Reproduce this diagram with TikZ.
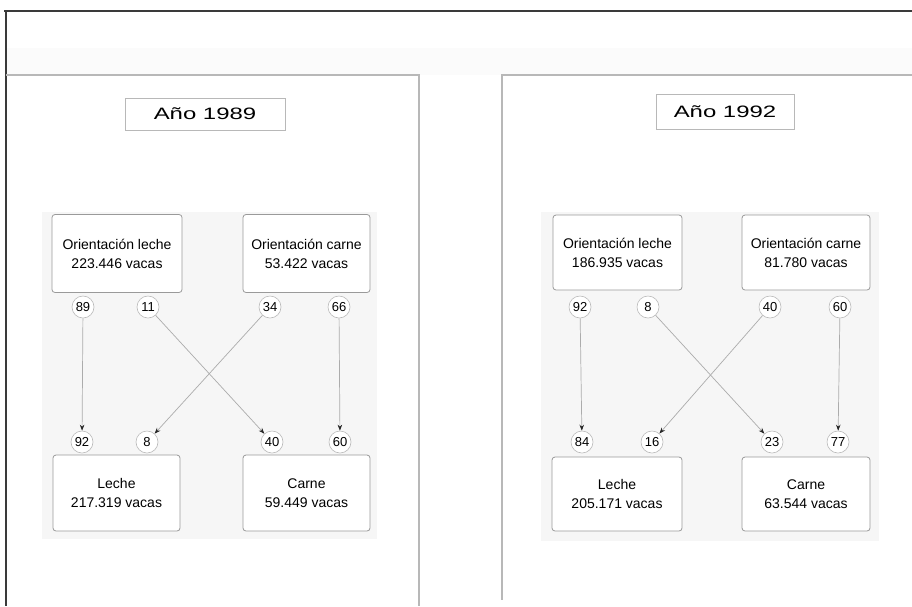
\documentclass[tikz,border=0pt]{standalone}
\usepackage{fontspec}
\setmainfont{Liberation Sans}
\usetikzlibrary{arrows.meta}
\definecolor{shadecol}{HTML}{F6F6F6}
\definecolor{boxline}{HTML}{9A9A9A}
\definecolor{panelline}{HTML}{B8B8B8}
\definecolor{frameline}{HTML}{3A3A3A}
\tikzset{
  box/.style={draw=boxline, line width=0.8pt, rounded corners=3pt, fill=white,
    align=center, font=\fontsize{14}{19}\selectfont, inner sep=0pt},
  titlebox/.style={draw=panelline, line width=0.9pt, fill=white, inner sep=0pt,
    minimum width=160pt, minimum height=32pt},
  pct/.style={circle, draw=gray!55, line width=0.6pt, fill=white, minimum size=22pt,
    inner sep=0pt, font=\fontsize{13}{13}\selectfont},
  arr/.style={draw=gray!65, line width=0.7pt, -{Stealth[length=6pt,width=4.5pt,black!85]}},
  panel/.style={draw=panelline, line width=1.2pt},
  frame/.style={draw=frameline, line width=1.2pt}
}
\newcommand{\titletext}[1]{\scalebox{1.45}[1]{\fontsize{16.5}{18}\selectfont #1}}
\begin{document}
\begin{tikzpicture}[x=1pt,y=-1pt]
\useasboundingbox (0,0) rectangle (912,606);
% faint band and shaded regions
\fill[fill=gray!3] (6,48) rectangle (912,75);
\fill[fill=shadecol] (42,212) rectangle (377,539);
\fill[fill=shadecol] (541,212) rectangle (879,541);
% outer frame and panels
\draw[frame] (4,11) -- (912,11);
\draw[frame] (6,11) -- (6,606);
\draw[panel] (6,75) -- (419,75) -- (419,606);
\draw[panel] (912,75) -- (502,75) -- (502,600);

% ---------- Left panel (1989) ----------
\node[titlebox] (t1) at (205,114) {\titletext{Año 1989}};
\node[box, minimum width=130pt, minimum height=78pt] (ol1) at (117,253.5) {Orientación leche\\223.446 vacas};
\node[box, minimum width=127pt, minimum height=78pt] (oc1) at (306.5,253.5) {Orientación carne\\53.422 vacas};
\node[box, minimum width=127pt, minimum height=76pt] (l1) at (116.5,493) {Leche\\217.319 vacas};
\node[box, minimum width=127pt, minimum height=76pt] (c1) at (306.5,493) {Carne\\59.449 vacas};
\node[pct] (a89) at (83,307) {89};
\node[pct] (a11) at (148,307) {11};
\node[pct] (a34) at (270,307) {34};
\node[pct] (a66) at (339,307) {66};
\node[pct] (b92) at (82,442) {92};
\node[pct] (b8) at (147,442) {8};
\node[pct] (b40) at (272,442) {40};
\node[pct] (b60) at (340,442) {60};
\draw[arr] (a89) -- (b92);
\draw[arr] (a11) -- (b40);
\draw[arr] (a34) -- (b8);
\draw[arr] (a66) -- (b60);

% ---------- Right panel (1992) ----------
\node[titlebox, minimum width=138pt, minimum height=35pt] (t2) at (725,112) {\titletext{Año 1992}};
\node[box, minimum width=129pt, minimum height=75pt] (ol2) at (617.5,252.5) {Orientación leche\\186.935 vacas};
\node[box, minimum width=128pt, minimum height=75pt] (oc2) at (806,252.5) {Orientación carne\\81.780 vacas};
\node[box, minimum width=130pt, minimum height=74pt] (l2) at (617,494) {Leche\\205.171 vacas};
\node[box, minimum width=128pt, minimum height=74pt] (c2) at (806,494) {Carne\\63.544 vacas};
\node[pct] (r92) at (580,307) {92};
\node[pct] (r8) at (648,307) {8};
\node[pct] (r40) at (770,307) {40};
\node[pct] (r60) at (840,307) {60};
\node[pct] (s84) at (582,442) {84};
\node[pct] (s16) at (652,442) {16};
\node[pct] (s23) at (772,442) {23};
\node[pct] (s77) at (838,442) {77};
\draw[arr] (r92) -- (s84);
\draw[arr] (r8) -- (s23);
\draw[arr] (r40) -- (s16);
\draw[arr] (r60) -- (s77);
\end{tikzpicture}
\end{document}
